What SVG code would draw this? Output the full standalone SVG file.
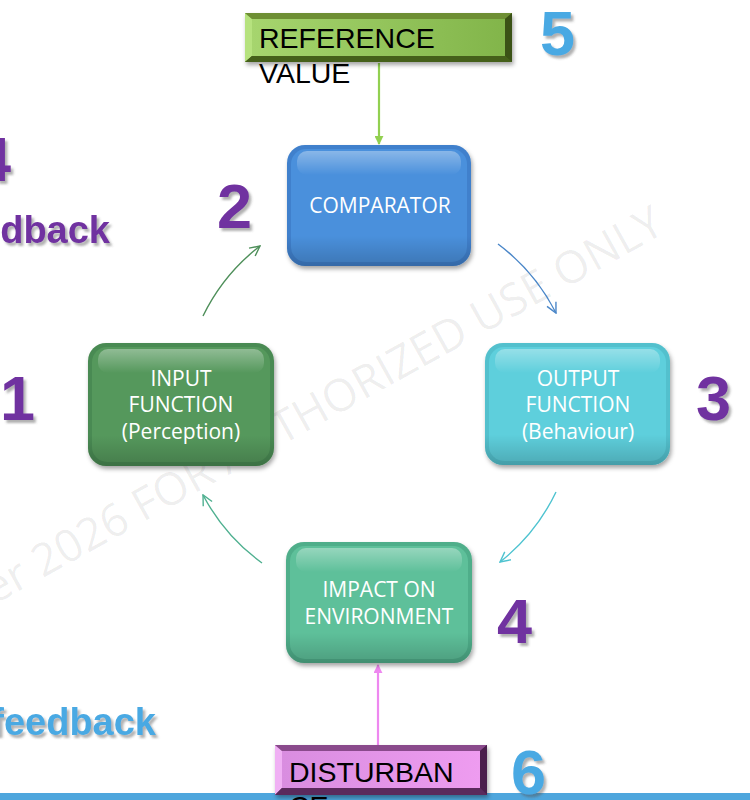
<svg xmlns="http://www.w3.org/2000/svg" width="750" height="800" viewBox="0 0 750 800">
<defs>
<style>
.lbl{font-family:"Open Sans","Liberation Sans",sans-serif;font-size:21px;fill:#fff;text-anchor:middle}
.num{font-family:"Liberation Sans",Arial,sans-serif;font-weight:bold;font-size:63px}
.pur{fill:#7030a0}
.blu{fill:#4aa9e3}
.box{font-family:"Liberation Sans",Arial,sans-serif;font-size:28.5px;fill:#000}
.conn{fill:none;stroke-width:1.4}
.big{font-family:"Liberation Sans",Arial,sans-serif;font-weight:bold;font-size:38px}
</style>
<filter id="sh" x="-20%" y="-20%" width="140%" height="150%">
<feDropShadow dx="1.5" dy="3" stdDeviation="2" flood-color="#000" flood-opacity="0.35"/>
</filter>
<filter id="tsh" x="-20%" y="-20%" width="150%" height="150%">
<feDropShadow dx="2.5" dy="3" stdDeviation="1.2" flood-color="#555" flood-opacity="0.45"/>
</filter>
<linearGradient id="gloss" x1="0" y1="0" x2="0" y2="1">
<stop offset="0" stop-color="#fff" stop-opacity="0.35"/>
<stop offset="1" stop-color="#fff" stop-opacity="0"/>
</linearGradient>
<linearGradient id="shade" x1="0" y1="0" x2="0" y2="1">
<stop offset="0.75" stop-color="#000" stop-opacity="0"/>
<stop offset="1" stop-color="#000" stop-opacity="0.18"/>
</linearGradient>
<linearGradient id="refFace" x1="0" y1="0" x2="1" y2="0">
<stop offset="0" stop-color="#a6d56e"/>
<stop offset="1" stop-color="#82b54a"/>
</linearGradient>
<linearGradient id="disFace" x1="0" y1="0" x2="1" y2="0">
<stop offset="0" stop-color="#d98de0"/>
<stop offset="1" stop-color="#ee9cf0"/>
</linearGradient>
<marker id="mGreen" viewBox="0 0 12 12" refX="11" refY="6" markerWidth="12" markerHeight="12" markerUnits="userSpaceOnUse" orient="auto">
<path d="M1,1 L11,6 L1,11" fill="none" stroke="#4e8f5a" stroke-width="1.4"/>
</marker>
<marker id="mBlue" viewBox="0 0 12 12" refX="11" refY="6" markerWidth="12" markerHeight="12" markerUnits="userSpaceOnUse" orient="auto">
<path d="M1,1 L11,6 L1,11" fill="none" stroke="#4a86c8" stroke-width="1.4"/>
</marker>
<marker id="mCyan" viewBox="0 0 12 12" refX="11" refY="6" markerWidth="12" markerHeight="12" markerUnits="userSpaceOnUse" orient="auto">
<path d="M1,1 L11,6 L1,11" fill="none" stroke="#4ec3d0" stroke-width="1.4"/>
</marker>
<marker id="mTeal" viewBox="0 0 12 12" refX="11" refY="6" markerWidth="12" markerHeight="12" markerUnits="userSpaceOnUse" orient="auto">
<path d="M1,1 L11,6 L1,11" fill="none" stroke="#4fb090" stroke-width="1.4"/>
</marker>
<marker id="fGreen" viewBox="0 0 10 10" refX="9" refY="5" markerWidth="9" markerHeight="9" markerUnits="userSpaceOnUse" orient="auto">
<path d="M0,0 L10,5 L0,10 Z" fill="#92d050"/>
</marker>
<marker id="fPink" viewBox="0 0 10 10" refX="9" refY="5" markerWidth="9" markerHeight="9" markerUnits="userSpaceOnUse" orient="auto">
<path d="M0,0 L10,5 L0,10 Z" fill="#ee88f0"/>
</marker>
</defs>
<rect x="0" y="0" width="750" height="800" fill="#fff"/>

<!-- watermark -->
<text x="-6" y="605" transform="rotate(-29 -6 605)" font-family="Open Sans, Liberation Sans, sans-serif" font-size="45" fill="#000" fill-opacity="0.07">er 2026 FOR AUTHORIZED USE ONLY</text>

<!-- side labels -->
<text class="num pur" x="-24" y="181" filter="url(#tsh)">4</text>
<text class="big pur" x="110" y="243" text-anchor="end" filter="url(#tsh)">dback</text>
<text class="big blu" x="156" y="735" text-anchor="end" filter="url(#tsh)">feedback</text>

<g id="connectors">
<line x1="379" y1="63" x2="379" y2="144" stroke="#92d050" stroke-width="2.2" marker-end="url(#fGreen)"/>
<line x1="378" y1="745" x2="378" y2="665" stroke="#ee88f0" stroke-width="2.2" marker-end="url(#fPink)"/>
<path class="conn" d="M203,316 A198,198 0 0 1 260,246" stroke="#4e8f5a" marker-end="url(#mGreen)"/>
<path class="conn" d="M498,244 A198,198 0 0 1 556,313" stroke="#4a86c8" marker-end="url(#mBlue)"/>
<path class="conn" d="M556,492 A198,198 0 0 1 500,562" stroke="#4ec3d0" marker-end="url(#mCyan)"/>
<path class="conn" d="M262,563 A198,198 0 0 1 203,495" stroke="#4fb090" marker-end="url(#mTeal)"/>
</g>

<g id="reference">
<rect x="245" y="13" width="267" height="49" fill="#4e6a1f" filter="url(#sh)"/>
<polygon points="245,13 512,13 505,19 252,19" fill="#6e8f34"/>
<polygon points="245,13 252,19 252,56 245,62" fill="#b6e27e"/>
<polygon points="512,13 512,62 505,56 505,19" fill="#3b5216"/>
<polygon points="245,62 252,56 505,56 512,62" fill="#45601a"/>
<rect x="252" y="19" width="253" height="37" fill="url(#refFace)"/>
<text class="box" x="259" y="48">REFERENCE</text>
<text class="box" x="259" y="83">VALUE</text>
</g>
<text class="num blu" x="540" y="55" filter="url(#tsh)">5</text>

<g id="comparator">
<rect x="287" y="145" width="184" height="121" rx="18" fill="#3f80cc" filter="url(#sh)"/>
<rect x="291" y="149" width="176" height="113" rx="15" fill="#4a90dc"/>
<rect x="297" y="151" width="164" height="24" rx="10" fill="url(#gloss)"/>
<rect x="287" y="145" width="184" height="121" rx="18" fill="url(#shade)"/>
<text class="lbl" x="380" y="213">COMPARATOR</text>
</g>
<text class="num pur" x="217" y="228" filter="url(#tsh)">2</text>

<g id="input">
<rect x="88" y="343" width="186" height="123" rx="18" fill="#4a8a52" filter="url(#sh)"/>
<rect x="92" y="347" width="178" height="115" rx="15" fill="#55985c"/>
<rect x="98" y="349" width="166" height="24" rx="10" fill="url(#gloss)"/>
<rect x="88" y="343" width="186" height="123" rx="18" fill="url(#shade)"/>
<text class="lbl" x="181" y="386">INPUT</text>
<text class="lbl" x="181" y="412">FUNCTION</text>
<text class="lbl" x="181" y="439">(Perception)</text>
</g>
<text class="num pur" x="0" y="420" filter="url(#tsh)">1</text>

<g id="output">
<rect x="485" y="343" width="185" height="122" rx="18" fill="#52c0cd" filter="url(#sh)"/>
<rect x="489" y="347" width="177" height="114" rx="15" fill="#5ecfdc"/>
<rect x="495" y="349" width="165" height="24" rx="10" fill="url(#gloss)"/>
<rect x="485" y="343" width="185" height="122" rx="18" fill="url(#shade)"/>
<text class="lbl" x="578" y="386">OUTPUT</text>
<text class="lbl" x="578" y="412">FUNCTION</text>
<text class="lbl" x="578" y="439">(Behaviour)</text>
</g>
<text class="num pur" x="696" y="420" filter="url(#tsh)">3</text>

<g id="impact">
<rect x="286" y="542" width="186" height="121" rx="18" fill="#50ae8a" filter="url(#sh)"/>
<rect x="290" y="546" width="178" height="113" rx="15" fill="#5ec09a"/>
<rect x="296" y="548" width="166" height="24" rx="10" fill="url(#gloss)"/>
<rect x="286" y="542" width="186" height="121" rx="18" fill="url(#shade)"/>
<text class="lbl" x="379" y="597">IMPACT ON</text>
<text class="lbl" x="379" y="624">ENVIRONMENT</text>
</g>
<text class="num pur" x="497" y="643" filter="url(#tsh)">4</text>

<rect x="0" y="793" width="750" height="7" fill="#4ea6dd"/>

<g id="disturbance">
<rect x="275" y="745" width="212" height="50" fill="#5a2a5c" filter="url(#sh)"/>
<polygon points="275,745 487,745 480,751 282,751" fill="#8a4a8c"/>
<polygon points="275,745 282,751 282,788 275,795" fill="#f0b0f4"/>
<polygon points="487,745 487,795 480,788 480,751" fill="#4a1f4c"/>
<polygon points="275,795 282,788 480,788 487,795" fill="#5a2a5c"/>
<rect x="282" y="751" width="198" height="37" fill="url(#disFace)"/>
<text class="box" x="289" y="782">DISTURBAN</text>
<text class="box" x="289" y="816">CE</text>
</g>
<text class="num blu" x="511" y="794" filter="url(#tsh)">6</text>
</svg>
